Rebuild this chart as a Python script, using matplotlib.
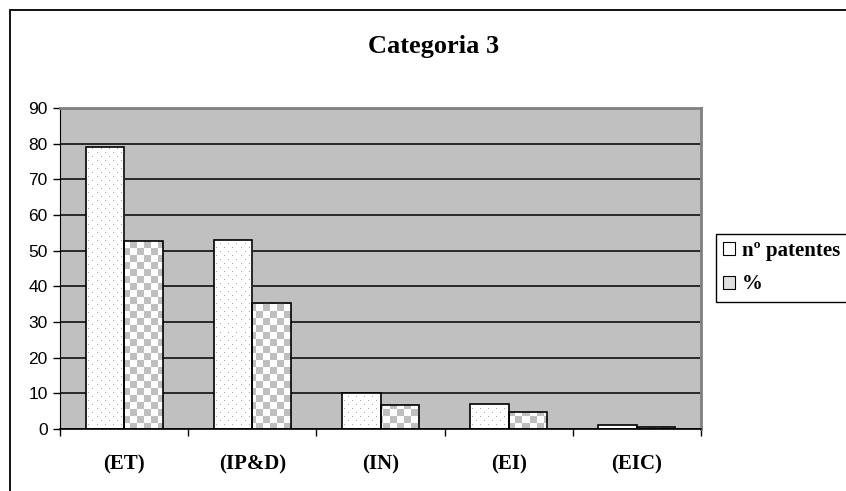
import numpy as np
import matplotlib
matplotlib.use("Agg")
import matplotlib.pyplot as plt
from matplotlib.patches import Patch, Rectangle

# chart data
categories = ["(ET)", "(IP&D)", "(IN)", "(EI)", "(EIC)"]
n_patentes = [79, 53, 10, 7, 1]
percent = [52.7, 35.3, 6.7, 4.7, 0.7]
yticks = [0, 10, 20, 30, 40, 50, 60, 70, 80, 90]

W, H = 846, 491
fig = plt.figure(figsize=(W / 100, H / 100), dpi=100)
ax = fig.add_axes([60 / W, 62 / H, 641 / W, 321 / H])
ax.set_facecolor("#c0c0c0")

x = np.arange(len(categories))
bw = 0.3

# pixel textures for the two fill patterns
aw, ah = 641, 321
yy, xx = np.indices((ah, aw))
dots = np.ones((ah, aw, 3))
mask = ((xx % 8 == 0) & (yy % 8 == 0)) | ((xx % 8 == 4) & (yy % 8 == 4))
dots[mask] = 0.66
checker = np.ones((ah, aw, 3))
checker[((xx // 7) + (yy // 7)) % 2 == 1] = 0.75

b1 = ax.bar(x - bw / 2, n_patentes, bw, color="white", zorder=2)
b2 = ax.bar(x + bw / 2, percent, bw, color="white", zorder=2)
ext = [-0.5, 4.5, 0, 90]
for bars, tex in [(b1, dots), (b2, checker)]:
    for p in bars:
        im = ax.imshow(tex, extent=ext, aspect="auto", interpolation="nearest", zorder=2.5)
        im.set_clip_path(p)
ax.bar(x - bw / 2, n_patentes, bw, fill=False, edgecolor="black", lw=1.2, zorder=3)
ax.bar(x + bw / 2, percent, bw, fill=False, edgecolor="black", lw=1.2, zorder=3)

ax.set_xlim(-0.5, 4.5)
ax.set_ylim(0, 90)
ax.set_yticks(yticks)
ax.yaxis.grid(True, color="black", lw=1.1)
ax.set_axisbelow(True)

ax.set_xticks(np.arange(-0.5, 5, 1))
ax.set_xticklabels([])
ax.set_xticks(x, minor=True)
ax.set_xticklabels(categories, minor=True, fontfamily="Liberation Serif",
                   fontweight="bold", fontsize=15)
ax.tick_params(axis="x", which="minor", length=0, pad=18)
ax.tick_params(axis="x", which="major", length=5, width=1, direction="out")
ax.tick_params(axis="y", length=5, width=1, direction="out", pad=4)
for lab in ax.get_yticklabels():
    lab.set_fontfamily("Liberation Sans")
    lab.set_fontsize(12.5)

for s in ["top", "right"]:
    ax.spines[s].set_color("#808080")
    ax.spines[s].set_linewidth(2)
ax.spines["left"].set_color("black")
ax.spines["bottom"].set_color("black")
ax.spines["bottom"].set_linewidth(1.2)

fig.text(434 / W, 1 - 46 / H, "Categoria 3", ha="center", va="center",
         fontfamily="Liberation Serif", fontweight="bold", fontsize=19)

handles = [Patch(facecolor="white", edgecolor="black", lw=0.8),
           Patch(facecolor="#e0e0e0", edgecolor="black", lw=0.8)]
leg = fig.legend(handles, ["nº patentes", "%"], loc="upper left",
                 bbox_to_anchor=(716 / W, 1 - 234 / H),
                 prop={"family": "Liberation Serif", "weight": "bold", "size": 15},
                 fancybox=False, framealpha=1, edgecolor="black",
                 handlelength=0.58, handleheight=0.58, handletextpad=0.3,
                 borderpad=0.35, labelspacing=0.63, borderaxespad=0)
leg.get_frame().set_linewidth(1)

# chart border
fig.patches.append(Rectangle((10 / W, -0.1), 1.2, 1 - 10 / H + 0.1,
                             transform=fig.transFigure, fill=False,
                             edgecolor="black", lw=1.3))

fig.savefig("out.png", dpi=100)
